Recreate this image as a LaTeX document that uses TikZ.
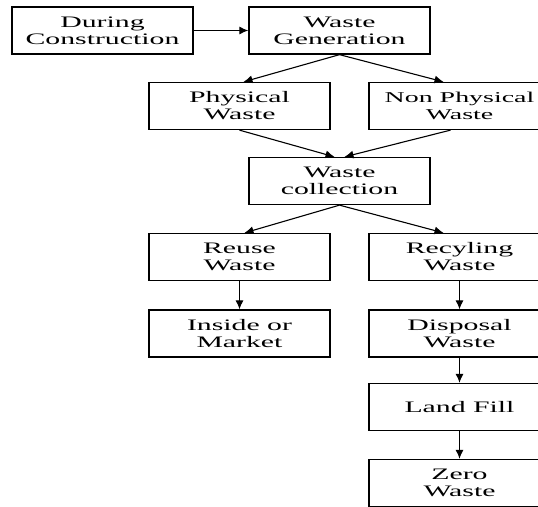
\documentclass[tikz,border=0pt]{standalone}
\usepackage{fontspec}
\setmainfont{Liberation Serif}[FakeStretch=1.86]
\usetikzlibrary{arrows.meta, calc}

\begin{document}
\begin{tikzpicture}[x=1pt, y=-1pt, box/.style={draw, rectangle, line width=1.3pt,
						minimum width=181pt, minimum height=47pt, inner sep=0pt, align=center,
						font=\fontsize{16}{17}\selectfont},
					flow/.style={-{Latex[length=9pt, width=8pt]}, line width=1.1pt}]
			\useasboundingbox (0,0) rectangle (538,506);

			\node[box] (DC) at (102.5,30.5) {During\\Construction};
			\node[box] (WG) at (339.5,30.5) {Waste\\Generation};
			\node[box] (PW) at (239.5,106) {Physical\\Waste};
			\node[box, font=\fontsize{15}{17}\selectfont] (NPW) at (459.5,106) {Non Physical\\Waste};
			\node[box] (WC) at (339.5,181) {Waste\\collection};
			\node[box] (RW) at (239.5,257) {Reuse\\Waste};
			\node[box] (RYW) at (459.5,257) {Recyling\\Waste};
			\node[box] (IM) at (239.5,333.5) {Inside or\\Market};
			\node[box] (DW) at (459.5,333.5) {Disposal\\Waste};
			\node[box] (LF) at (459.5,407) {Land Fill};
			\node[box] (ZW) at (459.5,483) {Zero\\Waste};

			\draw[flow] (DC) -- (WG);
			\draw[flow] (WG.south) -- ($(PW.north)+(4,0)$);
			\draw[flow] (WG.south) -- ($(NPW.north)+(-16,0)$);
			\draw[flow] (PW.south) -- ($(WC.north)+(-5,0)$);
			\draw[flow] ($(NPW.south)+(-9,0)$) -- ($(WC.north)+(5,0)$);
			\draw[flow] (WC.south) -- ($(RW.north)+(5,0)$);
			\draw[flow] (WC.south) -- ($(RYW.north)+(-16,0)$);
			\draw[flow] (RW) -- (IM);
			\draw[flow] (RYW) -- (DW);
			\draw[flow] (DW) -- (LF);
			\draw[flow] (LF) -- (ZW);
		\end{tikzpicture}
\end{document}
